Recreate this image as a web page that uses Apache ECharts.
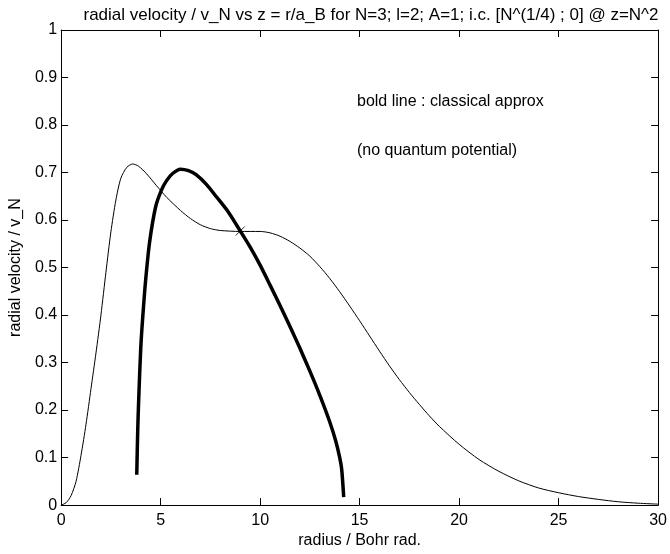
<!DOCTYPE html>
<html>
<head>
<meta charset="utf-8">
<script src="https://cdn.jsdelivr.net/npm/echarts@6/dist/echarts.min.js"></script>
<style>
  html, body { margin: 0; padding: 0; background: #fff; }
  #chart { width: 670px; height: 554px; }
</style>
</head>
<body>
<div id="chart"></div>
<script>
// quantum curve (thin line): radius, velocity
var quantumR = [0, 0.25, 0.5, 0.75, 1.0, 1.25, 1.5, 1.75, 2.0, 2.25, 2.5, 2.75, 3.0, 3.3, 3.6, 3.9, 4.3, 4.8, 5.3, 6.0, 6.5, 7.0, 7.5, 8.0, 9.0, 10.0, 10.5, 11.0, 11.5, 12.0, 12.5, 13.0, 13.5, 14.0, 14.5, 15.0, 15.5, 16.0, 16.5, 17.0, 17.5, 18.0, 18.5, 19.0, 20.0, 21.0, 22.0, 23.0, 24.0, 25.0, 26.0, 27.0, 28.0, 29.0, 30.0];
var quantumV = [0, 0.005, 0.02, 0.05, 0.105, 0.17, 0.245, 0.32, 0.4, 0.49, 0.575, 0.642, 0.688, 0.711, 0.718, 0.713, 0.697, 0.672, 0.648, 0.62, 0.603, 0.59, 0.582, 0.578, 0.576, 0.576, 0.573, 0.566, 0.555, 0.541, 0.524, 0.502, 0.477, 0.449, 0.419, 0.388, 0.356, 0.324, 0.293, 0.264, 0.237, 0.212, 0.188, 0.166, 0.128, 0.096, 0.071, 0.051, 0.036, 0.026, 0.018, 0.012, 0.007, 0.004, 0.002];

// classical curve (bold line)
var classicR = [3.8, 3.85, 3.9, 4.0, 4.1, 4.25, 4.45, 4.75, 5.04, 5.3, 5.6, 6.0, 6.4, 6.8, 7.3, 7.8, 8.4, 9.0, 9.5, 10.0, 10.5, 11.0, 11.5, 12.0, 12.5, 13.0, 13.5, 13.8, 14.0, 14.1, 14.2];
var classicV = [0.064, 0.16, 0.225, 0.33, 0.395, 0.475, 0.555, 0.628, 0.663, 0.683, 0.698, 0.707, 0.704, 0.695, 0.675, 0.649, 0.617, 0.577, 0.543, 0.505, 0.463, 0.42, 0.376, 0.33, 0.282, 0.231, 0.175, 0.135, 0.1, 0.075, 0.017];

// initial condition marker @ z = N^2
var markR = [9];
var markV = [0.577];

var xTicks = [0, 5, 10, 15, 20, 25, 30];
var yTicks = [0, 0.1, 0.2, 0.3, 0.4, 0.5, 0.6, 0.7, 0.8, 0.9, 1];

function pairs(xs, ys) {
  var out = [];
  for (var i = 0; i < xs.length; i++) {
    out.push([xs[i], ys[i]]);
  }
  return out;
}

var font = "'Liberation Sans', Arial, sans-serif";
var myChart = echarts.init(document.getElementById("chart"));

var boxAxis = {
  axisLine: { show: true, onZero: false, lineStyle: { color: "#000", width: 1 } },
  axisTick: { show: true, inside: true, length: 7, lineStyle: { color: "#000" } },
  splitLine: { show: false },
};

myChart.setOption({
  animation: false,
  title: {
    text: "radial velocity / v_N vs z = r/a_B for N=3; l=2; A=1; i.c. [N^(1/4) ; 0] @ z=N^2",
    left: 366,
    textAlign: "center",
    top: 2,
    textStyle: { fontFamily: font, fontSize: 17, fontWeight: "normal", color: "#000" },
  },
  grid: { left: 53, right: 10, top: 30, bottom: 44 },
  xAxis: [
    Object.assign({}, boxAxis, {
      type: "value",
      min: xTicks[0],
      max: xTicks[xTicks.length - 1],
      interval: 5,
      name: "radius / Bohr rad.",
      nameLocation: "middle",
      nameGap: 25,
      nameTextStyle: { fontFamily: font, fontSize: 16, color: "#000" },
      axisLabel: { margin: 7, fontFamily: font, fontSize: 16, color: "#000" },
    }),
    Object.assign({}, boxAxis, {
      type: "value",
      position: "top",
      min: xTicks[0],
      max: xTicks[xTicks.length - 1],
      interval: 5,
      axisLabel: { show: false },
    }),
  ],
  yAxis: [
    Object.assign({}, boxAxis, {
      type: "value",
      min: yTicks[0],
      max: yTicks[yTicks.length - 1],
      interval: 0.1,
      name: "radial velocity / v_N",
      nameLocation: "middle",
      nameGap: 28,
      nameTextStyle: { fontFamily: font, fontSize: 16, color: "#000" },
      axisLabel: { margin: 4, fontFamily: font, fontSize: 16, color: "#000" },
    }),
    Object.assign({}, boxAxis, {
      type: "value",
      position: "right",
      min: yTicks[0],
      max: yTicks[yTicks.length - 1],
      interval: 0.1,
      axisLabel: { show: false },
    }),
  ],
  graphic: [
    {
      type: "text",
      left: 357,
      top: 94,
      style: { text: "bold line : classical approx", font: "16px " + font, fill: "#000" },
    },
    {
      type: "text",
      left: 357,
      top: 143,
      style: { text: "(no quantum potential)", font: "16px " + font, fill: "#000" },
    },
  ],
  series: [
    {
      name: "quantum",
      type: "line",
      data: pairs(quantumR, quantumV),
      showSymbol: false,
      smooth: 0.25,
      lineStyle: { color: "#000", width: 1 },
    },
    {
      name: "classical",
      type: "line",
      data: pairs(classicR, classicV),
      showSymbol: false,
      smooth: 0.25,
      lineStyle: { color: "#000", width: 3.5 },
    },
    {
      name: "ic",
      type: "scatter",
      data: pairs(markR, markV),
      symbol: "path://M0,0L10,10M10,0L0,10",
      symbolSize: 9,
      itemStyle: { color: "none", borderColor: "#000", borderWidth: 1 },
    },
  ],
});
</script>
</body>
</html>
